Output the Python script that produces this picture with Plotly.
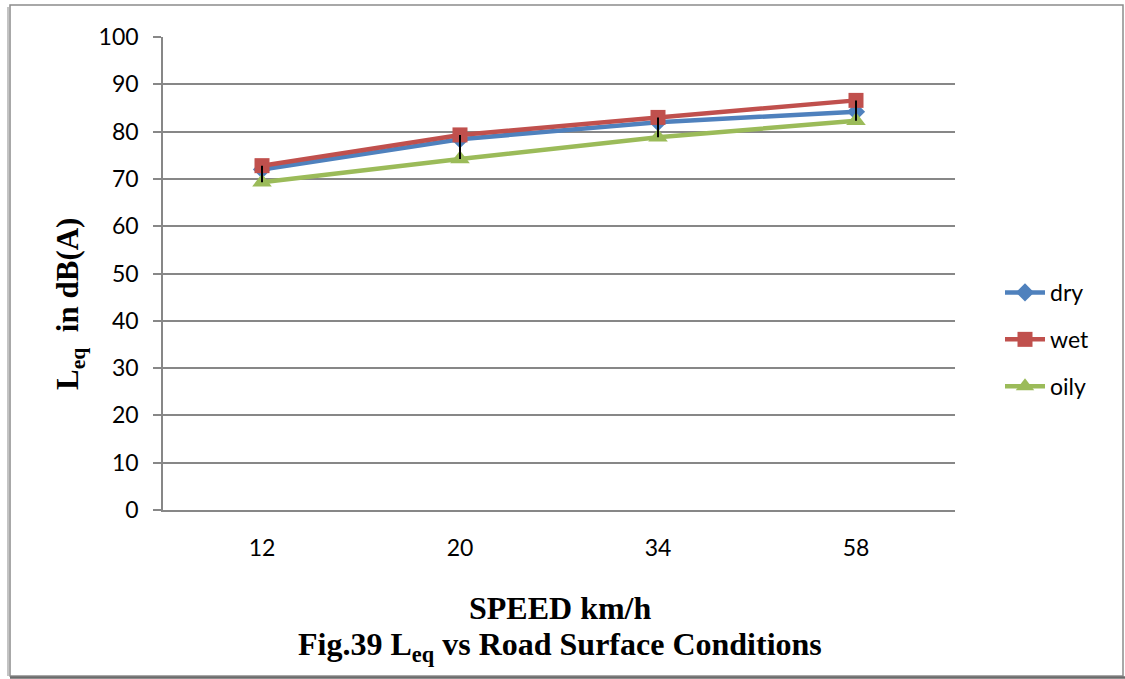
import plotly.graph_objects as go

speeds = ["12", "20", "34", "58"]
dry = [72.0, 78.4, 82.0, 84.2]
wet = [72.8, 79.3, 83.0, 86.6]
oily = [69.3, 74.2, 78.8, 82.3]
y_ticks = [0, 10, 20, 30, 40, 50, 60, 70, 80, 90, 100]

W, H = 1125, 679
L, R, T, B = 163, 955, 37, 510

fig = go.Figure()

series = [
    ("dry", dry, "#4F81BD", "diamond", 14),
    ("wet", wet, "#C0504D", "square", 15),
    ("oily", oily, "#9BBB59", "triangle-up", 17),
]
for name, vals, col, sym, sz in series:
    fig.add_trace(go.Scatter(
        x=speeds, y=vals, name=name, mode="lines+markers",
        line=dict(color=col, width=4.5),
        marker=dict(symbol=sym, size=sz, color=col),
        legendgroup=name,
    ))

# high-low lines (Excel style) from max/min of the series
hx, hy = [], []
for i, s in enumerate(speeds):
    vals = [dry[i], wet[i], oily[i]]
    hx += [s, s, None]
    hy += [max(vals), min(vals), None]
fig.add_trace(go.Scatter(x=hx, y=hy, mode="lines", line=dict(color="black", width=2),
                         showlegend=False, hoverinfo="skip"))

pw, ph = R - L, B - T
def px(x): return (x - L) / pw
def py(y): return (B - y) / ph

shapes = [
    dict(type="rect", xref="paper", yref="paper", x0=px(10), x1=px(1123), y0=py(676), y1=py(5),
         line=dict(color="#8c8c8c", width=1.5), layer="below"),
    dict(type="line", xref="paper", yref="paper", x0=px(10), x1=px(1125), y0=py(677.5), y1=py(677.5),
         line=dict(color="#6b6b6b", width=2.5)),
    dict(type="line", xref="paper", yref="paper", x0=px(8), x1=px(8), y0=py(676), y1=py(7),
         line=dict(color="#b0b0b0", width=1.5)),
]

annotations = [
    dict(text="<b>SPEED km/h</b>", xref="paper", yref="paper", x=px(560), y=py(608),
         showarrow=False, font=dict(family="Liberation Serif", size=32, color="black"),
         xanchor="center", yanchor="middle"),
    dict(text="<b>Fig.39 L<sub>eq</sub> vs Road Surface Conditions</b>", xref="paper", yref="paper",
         x=px(560), y=py(646), showarrow=False,
         font=dict(family="Liberation Serif", size=32, color="black"),
         xanchor="center", yanchor="middle"),
    dict(text="<b>L<sub>eq</sub>  in dB(A)</b>", xref="paper", yref="paper", x=px(70), y=py(304),
         showarrow=False, textangle=-90,
         font=dict(family="Liberation Serif", size=31, color="black"),
         xanchor="center", yanchor="middle"),
]

fig.update_layout(
    width=W, height=H,
    margin=dict(l=L, r=W - R, t=T, b=H - B),
    paper_bgcolor="white", plot_bgcolor="white",
    showlegend=True,
    legend=dict(x=px(1000), y=py(271), xanchor="left", yanchor="top",
                font=dict(family="Lato", size=23, color="black"),
                tracegroupgap=14, itemwidth=40, bgcolor="rgba(0,0,0,0)"),
    shapes=shapes, annotations=annotations,
    xaxis=dict(type="category", range=[-0.5, 3.5], showgrid=False, zeroline=False,
               showline=True, linecolor="#878787", linewidth=2, ticks="",
               tickfont=dict(family="Lato", size=23, color="black"), ticklabelstandoff=16),
    yaxis=dict(range=[0, 100], tickvals=y_ticks, showgrid=True, gridcolor="#878787", gridwidth=1.5,
               zeroline=False, showline=True, linecolor="#878787", linewidth=1.5,
               ticks="outside", ticklen=8, tickcolor="#878787", tickwidth=1.5,
               tickfont=dict(family="Lato", size=23, color="black"), ticklabelstandoff=10),
)

fig.write_html("out.html")
